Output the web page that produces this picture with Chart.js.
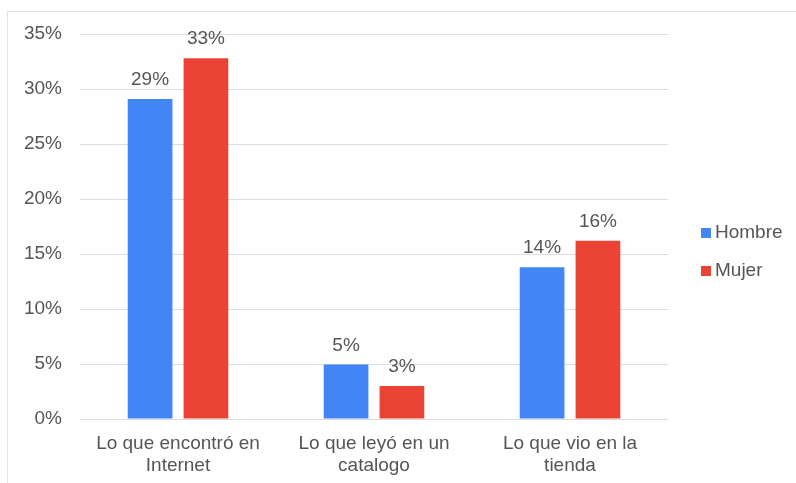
<!DOCTYPE html>
<html>
<head>
    <title>Hombre vs Mujer</title>
    <style>
        body, html {
            margin: 0;
            padding: 0;
            background: #fff;
        }
        #frame {
            position: absolute;
            left: 7px;
            top: 11px;
            width: 789px;
            height: 472px;
            border-top: 1px solid #e2e2e2;
            border-left: 1px solid #e2e2e2;
        }
        #wrap {
            position: absolute;
            left: 0;
            top: 0;
            width: 796px;
            height: 483px;
        }
    </style>
</head>
<body>
    <div id="frame"></div>
    <div id="wrap"><canvas id="chart"></canvas></div>

    <script src="https://cdn.jsdelivr.net/npm/chart.js"></script>
    <script>
        // datos
        let categorias = [['Lo que encontró en', 'Internet'], ['Lo que leyó en un', 'catalogo'], ['Lo que vio en la', 'tienda']];
        let series = ['Hombre', 'Mujer'];
        let hombre = [29.1, 4.95, 13.8];
        let mujer = [32.8, 3.0, 16.2];
        let ticksY = [0, 5, 10, 15, 20, 25, 30, 35];
        let colores = ['#4285f4', '#ea4335'];

        let fuente = "'Liberation Sans', Arial, sans-serif";
        let gris = '#555';

        // etiquetas encima de las barras
        let etiquetas = {
            id: 'etiquetas',
            afterDatasetsDraw(chart) {
                let ctx = chart.ctx;
                ctx.save();
                ctx.font = '19px ' + fuente;
                ctx.fillStyle = gris;
                ctx.textAlign = 'center';
                ctx.textBaseline = 'alphabetic';
                chart.data.datasets.forEach((ds, i) => {
                    chart.getDatasetMeta(i).data.forEach((bar, j) => {
                        ctx.fillText(Math.round(ds.data[j]) + '%', bar.x, bar.y - 14);
                    });
                });
                ctx.restore();
            }
        };

        // leyenda a la derecha
        let leyenda = {
            id: 'leyenda',
            afterDraw(chart) {
                let ctx = chart.ctx;
                ctx.save();
                ctx.font = '19px ' + fuente;
                ctx.textBaseline = 'middle';
                ctx.textAlign = 'left';
                chart.data.datasets.forEach((ds, i) => {
                    let y = 233 + i * 38;
                    ctx.fillStyle = ds.backgroundColor;
                    ctx.fillRect(701, y - 5, 10, 10);
                    ctx.fillStyle = gris;
                    ctx.fillText(ds.label, 715, y);
                });
                ctx.restore();
            }
        };

        new Chart(document.getElementById('chart'), {
            type: 'bar',
            data: {
                labels: categorias,
                datasets: [
                    { label: series[0], data: hombre, backgroundColor: colores[0] },
                    { label: series[1], data: mujer, backgroundColor: colores[1] }
                ]
            },
            plugins: [etiquetas, leyenda],
            options: {
                responsive: true,
                maintainAspectRatio: false,
                animation: false,
                categoryPercentage: 0.57,
                barPercentage: 0.8,
                layout: {
                    padding: { left: 0, right: 128, top: 34, bottom: 0 }
                },
                plugins: {
                    legend: { display: false },
                    tooltip: { enabled: false }
                },
                scales: {
                    x: {
                        grid: { display: false, drawTicks: false },
                        border: { display: false },
                        ticks: {
                            color: gris,
                            font: { family: fuente, size: 19 },
                            padding: 13,
                            maxRotation: 0
                        },
                        afterFit(scale) { scale.height = 64; }
                    },
                    y: {
                        min: 0,
                        max: 35,
                        afterBuildTicks(scale) {
                            scale.ticks = ticksY.map(v => ({ value: v }));
                        },
                        grid: { color: '#dcdcdc', drawTicks: false },
                        border: { display: false },
                        ticks: {
                            color: gris,
                            font: { family: fuente, size: 19 },
                            padding: 18,
                            callback: v => v + '%'
                        },
                        afterFit(scale) { scale.width = 80; }
                    }
                }
            }
        });
    </script>
</body>
</html>
